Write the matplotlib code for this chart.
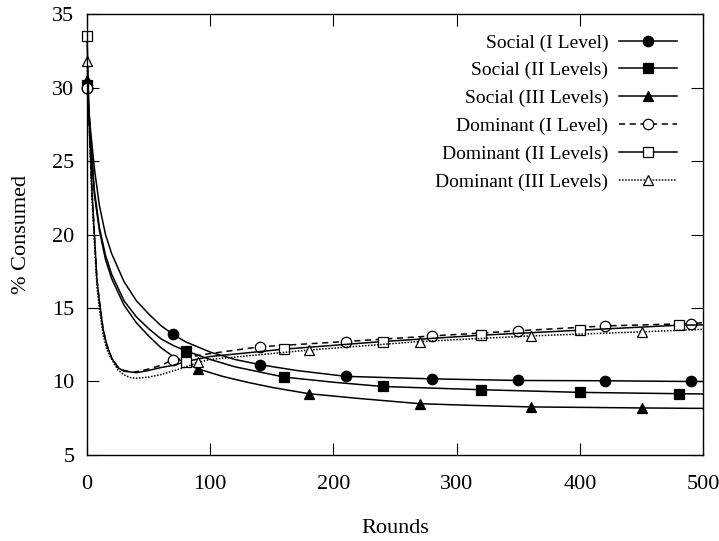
import matplotlib
matplotlib.use("Agg")
import matplotlib.pyplot as plt

plt.rcParams['font.family'] = ['Liberation Serif', 'DejaVu Serif']

# Social (I Level)
s1_x = [0, 3, 6, 10, 15, 20, 30, 40, 50, 60, 70, 80, 100, 120, 140, 170, 210, 250, 280, 350, 420, 490, 500]
s1_y = [30.0, 27.0, 24.5, 22.0, 20.0, 18.7, 16.8, 15.5, 14.6, 13.8, 13.2, 12.7, 12.0, 11.5, 11.15, 10.75, 10.35, 10.25, 10.18, 10.07, 10.05, 10.0, 10.0]
# Social (II Levels)
s2_x = [0, 3, 6, 10, 15, 20, 30, 40, 50, 60, 70, 80, 100, 120, 160, 200, 240, 280, 320, 400, 480, 500]
s2_y = [30.2, 26.5, 23.0, 20.5, 18.6, 17.3, 15.5, 14.4, 13.6, 12.9, 12.45, 12.09, 11.5, 11.0, 10.3, 9.95, 9.66, 9.55, 9.44, 9.26, 9.17, 9.15]
# Social (III Levels)
s3_x = [0, 3, 6, 10, 15, 20, 30, 40, 50, 60, 70, 80, 90, 110, 130, 150, 180, 220, 270, 310, 360, 400, 450, 500]
s3_y = [30.5, 26.0, 22.7, 20.3, 18.3, 17.0, 15.2, 14.0, 13.1, 12.3, 11.7, 11.25, 10.86, 10.35, 9.95, 9.6, 9.17, 8.85, 8.49, 8.38, 8.27, 8.24, 8.2, 8.17]
# Dominant (I Level)
d1_x = [0, 2, 4, 6, 8, 10, 13, 16, 20, 25, 30, 38, 50, 60, 70, 100, 140, 210, 280, 350, 420, 490, 500]
d1_y = [30.0, 27.0, 23.0, 20.0, 17.0, 15.5, 13.6, 12.5, 11.6, 11.0, 10.75, 10.63, 10.85, 11.1, 11.49, 11.9, 12.36, 12.72, 13.1, 13.45, 13.78, 13.94, 14.0]
# Dominant (II Levels)
d2_x = [0, 2, 4, 6, 8, 10, 13, 16, 20, 25, 30, 40, 50, 60, 70, 80, 100, 160, 240, 320, 400, 480, 500]
d2_y = [33.5, 27.5, 23.0, 20.0, 17.0, 15.5, 13.6, 12.5, 11.6, 10.95, 10.7, 10.6, 10.75, 10.95, 11.1, 11.35, 11.7, 12.2, 12.72, 13.15, 13.49, 13.83, 13.85]
# Dominant (III Levels)
d3_x = [0, 2, 4, 6, 8, 10, 13, 16, 20, 25, 30, 35, 40, 50, 60, 76, 90, 100, 180, 270, 360, 450, 500]
d3_y = [31.8, 27.0, 22.5, 19.5, 16.5, 15.0, 13.2, 12.2, 11.5, 10.8, 10.45, 10.27, 10.22, 10.3, 10.47, 10.87, 11.3, 11.5, 12.14, 12.72, 13.1, 13.38, 13.55]

# marker positions (rounds) for each series
s1_mk = [0, 70, 140, 210, 280, 350, 420, 490]
s2_mk = [0, 80, 160, 240, 320, 400, 480]
s3_mk = [0, 90, 180, 270, 360, 450]
d1_mk = [0, 70, 140, 210, 280, 350, 420, 490]
d2_mk = [0, 80, 160, 240, 320, 400, 480]
d3_mk = [0, 90, 180, 270, 360, 450]

series = [
    ("Social (I Level)", s1_x, s1_y, s1_mk, '-', 'o', 'black'),
    ("Social (II Levels)", s2_x, s2_y, s2_mk, '-', 's', 'black'),
    ("Social (III Levels)", s3_x, s3_y, s3_mk, '-', '^', 'black'),
    ("Dominant (I Level)", d1_x, d1_y, d1_mk, (0, (4, 3)), 'o', 'white'),
    ("Dominant (II Levels)", d2_x, d2_y, d2_mk, '-', 's', 'white'),
    ("Dominant (III Levels)", d3_x, d3_y, d3_mk, (0, (1, 1)), '^', 'white'),
]

fig = plt.figure(figsize=(7.19, 5.41), dpi=100)
ax = fig.add_axes([0.121, 0.159, 0.857, 0.815])

for label, xs, ys, mk, ls, m, fc in series:
    idx = [xs.index(v) for v in mk]
    ax.plot(xs, ys, linestyle=ls, color='black', linewidth=1.1,
            marker=m, markevery=idx, markersize=7.5,
            markerfacecolor=fc, markeredgecolor='black', markeredgewidth=0.9,
            label=label, clip_on=False)

ax.set_xlim(0, 500)
ax.set_ylim(5, 35)
ax.set_xticks([0, 100, 200, 300, 400, 500])
ax.set_yticks([5, 10, 15, 20, 25, 30, 35])
ax.tick_params(direction='in', top=True, right=True, length=8.5, width=0.8, labelsize=16)
ax.tick_params(axis='x', pad=14.5)
ax.tick_params(axis='y', pad=9)
for sp in ax.spines.values():
    sp.set_linewidth(1.0)
ax.set_xlabel("Rounds", fontsize=16, labelpad=18)
ax.set_ylabel("% Consumed", fontsize=16, labelpad=15)

ax.legend(loc='upper right', frameon=False, markerfirst=False, fontsize=14,
          handlelength=3.0, handletextpad=0.55, labelspacing=0.52,
          borderpad=0, borderaxespad=0, bbox_to_anchor=(0.958, 0.955))

fig.savefig("out.png", dpi=100)
